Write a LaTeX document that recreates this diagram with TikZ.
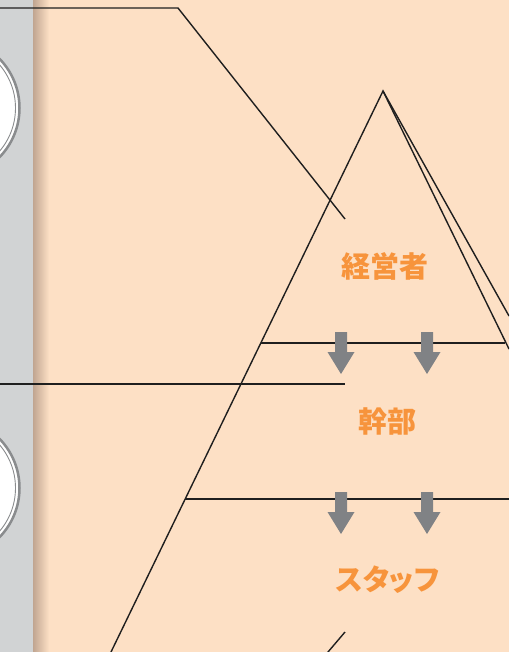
\documentclass[tikz,border=0pt]{standalone}
\usepackage{fontspec}
\newfontfamily\cjk{Noto Sans CJK JP}[RawFeature=+palt]

\definecolor{peach}{RGB}{253,224,197}
\definecolor{stripgray}{RGB}{209,211,212}
\definecolor{ringgray}{RGB}{138,140,142}
\definecolor{arrowgray}{RGB}{128,130,133}
\definecolor{labelorange}{RGB}{247,148,60}
\definecolor{shadowbrown}{RGB}{192,165,145}

\tikzset{
  leader/.style={line width=1.4pt,draw=black!88},
  level/.style={font=\cjk\bfseries\fontsize{29}{29}\selectfont,text=labelorange,inner sep=0pt},
}

\begin{document}
\begin{tikzpicture}[x=1pt,y=-1pt]
\useasboundingbox (0,0) rectangle (509,652);
\clip (0,0) rectangle (509,652);
\fill[peach](0,0) rectangle (509,652);
\fill[stripgray](0,0) rectangle (33,652);
\shade[left color=shadowbrown,right color=peach](33,0) rectangle (49,652);

\foreach \cy in {108,488}{
  \filldraw[fill=white,draw=ringgray,line width=2.5pt](-51,\cy) circle (70.5);
  \draw[ringgray,line width=0.9pt](-51,\cy) circle (66.5);
}

% pyramid
\coordinate (apex) at (383,91);
\coordinate (baseL) at (111,652);
\draw[leader](baseL)--(apex)--(509,349);
\draw[leader](apex)--(509,316);
\draw[leader](260.8,343)--(505,343);
\draw[leader](185.2,499)--(509,499);

\foreach \ax in {341,427}
  \foreach \ay in {332,492}
    \fill[arrowgray](\ax-6,\ay)--(\ax+6,\ay)--(\ax+6,\ay+20)--(\ax+13.5,\ay+20)
      --(\ax,\ay+42)--(\ax-13.5,\ay+20)--(\ax-6,\ay+20)--cycle;

\node[level] (boss) at (385,266) {経営者};
\node[level] (mgr) at (387,421) {幹部};
\node[level] (staff) at (387.5,580) {スタッフ};

% leaders from the circles
\coordinate (lead1) at (345,219);
\coordinate (lead2) at (345,384);
\coordinate (lead3) at (345,632);
\draw[leader](0,8)--(178,8)--(lead1);
\draw[leader](0,384)--(lead2);
\draw[leader](lead3)--(319.5,662);

\end{tikzpicture}
\end{document}
